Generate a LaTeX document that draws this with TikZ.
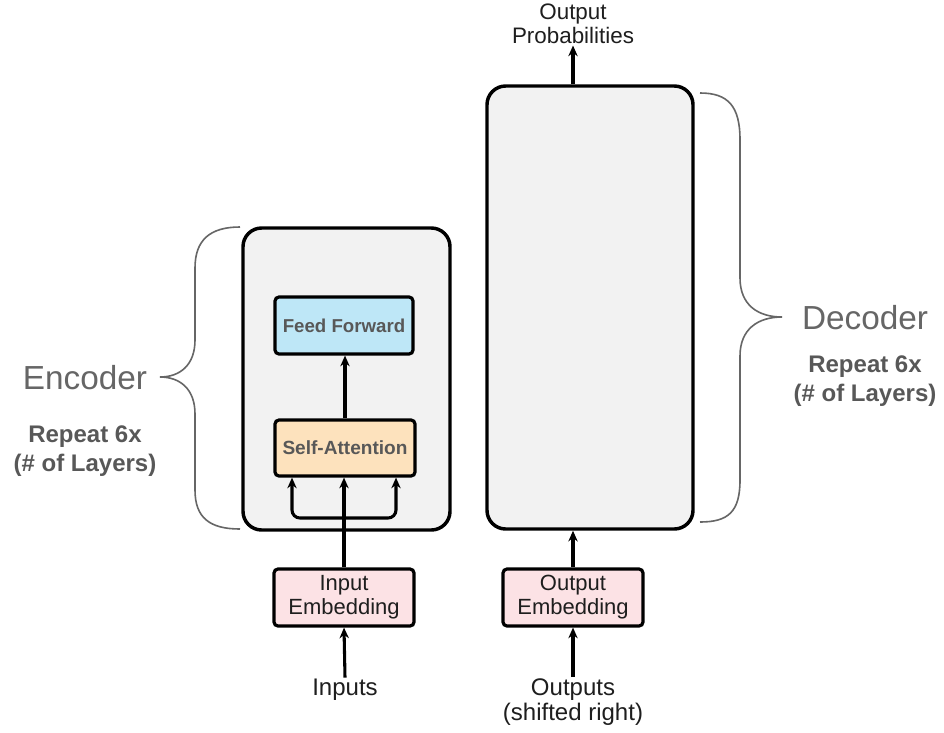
\documentclass[tikz,border=0pt]{standalone}
\usepackage{fontspec}
\setmainfont{Liberation Sans}
\usepackage{tikz}
\usetikzlibrary{
  arrows.meta,
  positioning,
  calc
}
\definecolor{LayerGray}{RGB}{242,242,242}
\definecolor{FeedBlue}{RGB}{190,231,247}
\definecolor{AttnPeach}{RGB}{253,226,189}
\definecolor{EmbPink}{RGB}{252,226,229}
\definecolor{LabelGray}{RGB}{102,102,102}
\definecolor{BoldGray}{RGB}{88,88,88}
\definecolor{InkBlack}{RGB}{30,30,30}
\tikzset{
  stackbox/.style={draw=black,fill=LayerGray,line width=2.6pt,rounded corners=14pt},
  ffnode/.style={draw=black,fill=FeedBlue,line width=2.4pt,rounded corners=3pt,minimum width=103.5pt,minimum height=42.75pt,align=center,font=\fontsize{14}{16}\selectfont\bfseries,text=BoldGray},
  attnnode/.style={draw=black,fill=AttnPeach,line width=2.4pt,rounded corners=3pt,minimum width=105pt,minimum height=42pt,align=center,font=\fontsize{14.3}{16}\selectfont\bfseries,text=BoldGray},
  embnode/.style={draw=black,fill=EmbPink,line width=2.4pt,rounded corners=3pt,minimum width=105pt,minimum height=42.75pt,align=center,font=\fontsize{16.5}{18}\selectfont,text=InkBlack,inner sep=1pt},
  iotext/.style={align=center,font=\fontsize{18}{18.75}\selectfont,text=InkBlack,inner sep=1pt},
  bracelabel/.style={font=\fontsize{25}{28}\selectfont,text=LabelGray},
  repeatlabel/.style={align=center,font=\fontsize{18}{21.75}\selectfont\bfseries,text=BoldGray},
  flow/.style={-{Stealth[length=8pt,width=7pt]},line width=2.3pt,draw=black},
  layerbrace/.style={draw=LabelGray,line width=1.2pt}
}
\begin{document}
\begin{tikzpicture}[x=0.75pt,y=-0.75pt]
\useasboundingbox[fill=white] (0,0) rectangle (944,732);

% encoder and decoder stacks
\node[stackbox,minimum width=155.25pt,minimum height=226.5pt] (enc) at (346.5,379) {};
\node[stackbox,minimum width=154.5pt,minimum height=332.25pt] (dec) at (590,307.5) {};

\node[ffnode] (ff) at (344,325.5) {Feed Forward};
\node[attnnode] (sa) at (345,448) {Self-Attention};

\node[embnode] (inemb) at (344,597.5) {Input\\Embedding};
\node[embnode] (outemb) at (573,597.5) {Output\\Embedding};

\node[iotext] (inputs) at (345,690) {Inputs};
\node[iotext] (outputs) at (573,702) {Outputs\\(shifted right)};
\node[iotext,font=\fontsize{16.8}{18}\selectfont] (probs) at (573,24) {Output\\Probabilities};

% encoder side
\draw[flow] (inputs.north) -- (inemb.south);
\draw[flow] (inemb.north) -- (inemb.north |- sa.south);
\coordinate (split) at ($(inemb.north)!0.55!(inemb.north |- sa.south)$);
\draw[flow,rounded corners=6pt] (split) -| ([xshift=-39pt]inemb.north |- sa.south);
\draw[flow,rounded corners=6pt] (split) -| ([xshift=39pt]inemb.north |- sa.south);
\draw[flow] (sa.north) -- (sa.north |- ff.south);

% decoder side
\draw[flow] (outputs.north) -- (outemb.south);
\draw[flow] (outemb.north) -- (outemb.north |- dec.south);
\draw[flow] (outemb.north |- dec.north) -- (probs.south);

% braces
\coordinate (encTop) at (240,227);
\coordinate (encTip) at (160,377);
\coordinate (encBot) at (240,529);
\coordinate (decTop) at (700,93);
\coordinate (decTip) at (782,317);
\coordinate (decBot) at (700,522);
\draw[layerbrace] (encTop) .. controls (210,227) and (195,240) .. (195,268)
  -- (195,340) .. controls (195,365) and (180,377) .. (encTip)
  .. controls (180,377) and (195,389) .. (195,414)
  -- (195,490) .. controls (195,518) and (210,529) .. (encBot);
\draw[layerbrace] (decTop) .. controls (728,93) and (740,106) .. (740,140)
  -- (740,278) .. controls (740,305) and (758,317) .. (decTip)
  .. controls (758,317) and (740,329) .. (740,356)
  -- (740,480) .. controls (740,512) and (728,522) .. (decBot);

\node[bracelabel] (enclbl) at (85,378) {Encoder};
\node[repeatlabel] (encrep) at (85,451) {Repeat 6x\\(\# of Layers)};
\node[bracelabel] (declbl) at (865,318) {Decoder};
\node[repeatlabel] (decrep) at (865,381) {Repeat 6x\\(\# of Layers)};
\end{tikzpicture}
\end{document}
